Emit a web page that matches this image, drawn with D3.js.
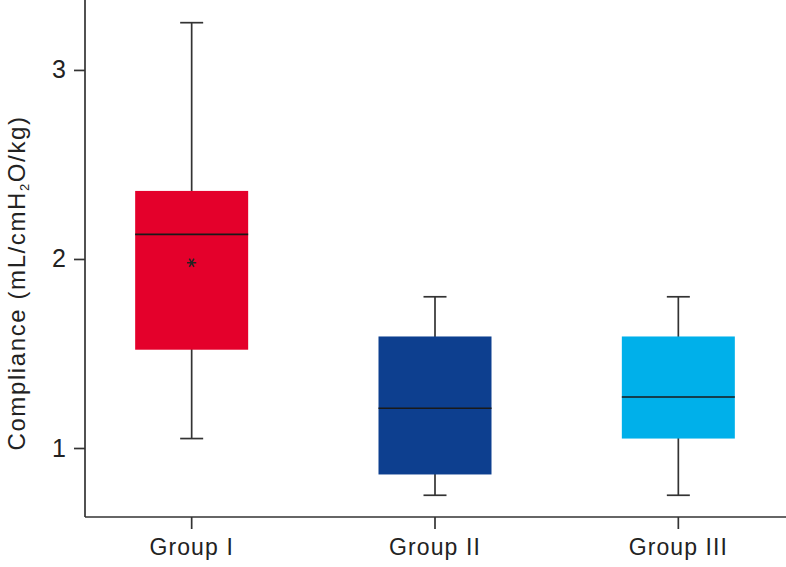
<!DOCTYPE html>
<html>
<head>
<meta charset="utf-8">
<script src="https://cdn.jsdelivr.net/npm/d3@7"></script>
<style>
  body { margin: 0; background: #fff; }
  svg { display: block; font-family: "Liberation Sans", Arial, sans-serif; }
</style>
</head>
<body>
<svg id="chart" width="786" height="567"></svg>
<script>
const groups = ['Group I', 'Group II', 'Group III'];
const whiskerHigh = [3.25, 1.80, 1.80];
const q3 = [2.36, 1.59, 1.59];
const median = [2.13, 1.21, 1.27];
const q1 = [1.52, 0.86, 1.05];
const whiskerLow = [1.05, 0.75, 0.75];
const marker = [1.98, null, null];
const colors = ['#e4002b', '#0d3f8f', '#00b0ea'];
const yTicks = [1, 2, 3];

const svg = d3.select('#chart');
const w = +svg.attr('width');
const h = +svg.attr('height');
const axisX = 85, axisY = 517;

const x = d3.scaleBand().domain(groups).range([70, 800]);
const y = d3.scaleLinear().domain([0.635, 3.37]).range([axisY, 0]);
const boxW = 113, capW = 23;

const rows = groups.map((g, i) => ({
    g, hi: whiskerHigh[i], q3: q3[i], med: median[i], q1: q1[i], lo: whiskerLow[i],
    mark: marker[i], color: colors[i]
}));
const cx = d => x(d.g) + x.bandwidth() / 2;

const box = svg.selectAll('g.box')
    .data(rows)
    .join('g')
    .attr('class', 'box');

// whiskers
box.append('line')
    .attr('x1', cx).attr('x2', cx)
    .attr('y1', d => y(d.hi)).attr('y2', d => y(d.lo))
    .attr('stroke', '#333').attr('stroke-width', 1.7);
box.selectAll('line.cap')
    .data(d => [d, d].map((v, k) => ({ c: cx(d), v: k ? d.lo : d.hi })))
    .join('line')
    .attr('class', 'cap')
    .attr('x1', d => d.c - capW / 2).attr('x2', d => d.c + capW / 2)
    .attr('y1', d => y(d.v)).attr('y2', d => y(d.v))
    .attr('stroke', '#333').attr('stroke-width', 1.7);

box.append('rect')
    .attr('x', d => cx(d) - boxW / 2)
    .attr('width', boxW)
    .attr('y', d => y(d.q3))
    .attr('height', d => y(d.q1) - y(d.q3))
    .attr('fill', d => d.color);

box.append('line')
    .attr('x1', d => cx(d) - boxW / 2).attr('x2', d => cx(d) + boxW / 2)
    .attr('y1', d => y(d.med)).attr('y2', d => y(d.med))
    .attr('stroke', '#1a1a1a').attr('stroke-width', 1.6);

box.filter(d => d.mark != null)
    .append('path')
    .attr('d', d3.symbol(d3.symbolAsterisk, 60))
    .attr('transform', d => `translate(${cx(d)},${y(d.mark)}) rotate(90)`)
    .attr('fill', 'none')
    .attr('stroke', '#222')
    .attr('stroke-width', 1.5);

// axes
const yAxis = d3.axisLeft(y).tickValues(yTicks).tickSize(11).tickPadding(8).tickFormat(d3.format('d'));
const gy = svg.append('g').attr('transform', `translate(${axisX},0)`).call(yAxis);
gy.select('.domain').remove();
gy.append('line').attr('x1', 0).attr('x2', 0).attr('y1', 0).attr('y2', axisY)
    .attr('stroke', '#333').attr('stroke-width', 1.7);
gy.selectAll('.tick line').attr('stroke', '#333').attr('stroke-width', 1.7);
gy.selectAll('.tick text').attr('fill', '#222').attr('font-size', 25)
    .attr('font-family', '"Liberation Sans", Arial, sans-serif');

const xAxis = d3.axisBottom(x).tickSize(12).tickPadding(10);
const gx = svg.append('g').attr('transform', `translate(0,${axisY})`).call(xAxis);
gx.select('.domain').remove();
gx.append('line').attr('x1', axisX).attr('x2', w).attr('y1', 0).attr('y2', 0)
    .attr('stroke', '#333').attr('stroke-width', 1.7);
gx.selectAll('.tick line').attr('stroke', '#333').attr('stroke-width', 1.7);
gx.selectAll('.tick text').attr('fill', '#222').attr('font-size', 23)
    .attr('letter-spacing', 1.1)
    .attr('font-family', '"Liberation Sans", Arial, sans-serif');

// y label
const label = svg.append('text')
    .attr('transform', 'translate(25,283) rotate(-90)')
    .attr('text-anchor', 'middle')
    .attr('font-size', 24)
    .attr('letter-spacing', 1.6)
    .attr('fill', '#222');
label.append('tspan').text('Compliance (mL/cmH');
label.append('tspan').text('2').attr('font-size', 13).attr('dy', 4);
label.append('tspan').text('O/kg)').attr('dy', -4);
</script>
</body>
</html>
